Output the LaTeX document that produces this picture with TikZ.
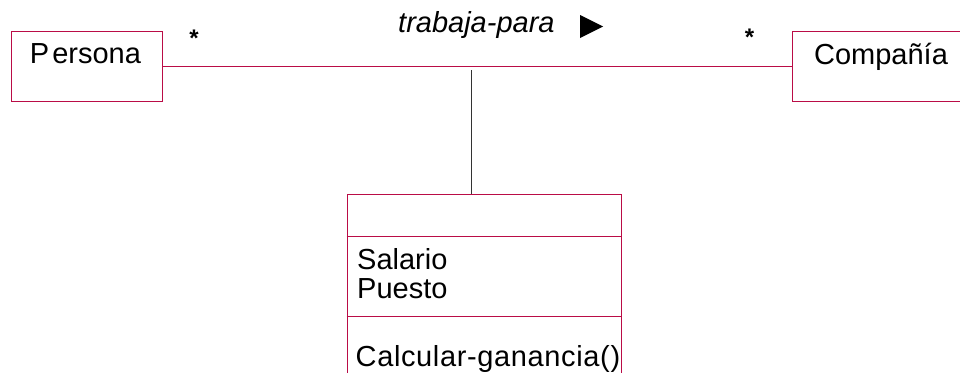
\documentclass[tikz,border=0pt]{standalone}
\usepackage{fontspec}
\setmainfont{Liberation Sans}
\definecolor{umlred}{RGB}{186,12,70}
\begin{document}
\begin{tikzpicture}[x=1pt,y=-1pt,
  classbox/.style={draw=umlred, line width=0.9pt, fill=none, inner sep=0pt},
  assoc/.style={draw=umlred, line width=0.9pt},
  linkline/.style={draw=black!80, line width=0.8pt},
  lbl/.style={inner sep=0pt, font=\fontsize{29}{29}\selectfont},
  mult/.style={inner sep=0pt, font=\fontsize{24}{24}\selectfont\bfseries}]
\useasboundingbox (0,0) rectangle (960,372);
\clip (0,0) rectangle (960,372);
% boxes
\node[classbox, minimum width=151pt, minimum height=70pt] (persona) at (86.5,66) {};
\node[classbox, minimum width=178pt, minimum height=70pt] (compania) at (881,66) {};
\node[classbox, minimum width=274pt, minimum height=226pt] (clase) at (484,307) {};
% compartments
\coordinate (d1) at (484,236.7);
\coordinate (d2) at (484,316);
\draw[assoc] (clase.west |- d1) -- (clase.east |- d1);
\draw[assoc] (clase.west |- d2) -- (clase.east |- d2);
% texts
\node[lbl, anchor=base] (personaT) at (85.5,63) {P\kern3pt ersona};
\node[lbl, anchor=base] (companiaT) at (881,64) {Compañía};
\node[lbl, anchor=base west] (salario) at (357,269) {Salario};
\node[lbl, anchor=base west] (puesto) at (357,298) {Puesto};
\node[lbl, anchor=base west, font=\fontsize{29}{29}\selectfont\addfontfeature{LetterSpace=2.2}] (calc) at (355.5,366) {Calcular-ganancia()};
\node[lbl, anchor=base west, font=\fontsize{29}{29}\selectfont\itshape] (rol) at (398,32) {trabaja-para};
% direction triangle
\coordinate (t1) at (580,15);
\coordinate (t2) at (603,26.5);
\coordinate (t3) at (580,38);
\fill[black] (t1) -- (t2) -- (t3) -- cycle;
% multiplicities
\node[mult, anchor=north] (m1) at (194,29.5) {*};
\node[mult, anchor=north] (m2) at (749.5,28.5) {*};
% association
\draw[assoc] (persona.east) -- (compania.west);
\coordinate (mid) at (471,70);
\draw[linkline] (mid) -- (mid |- clase.north);
\end{tikzpicture}
\end{document}
